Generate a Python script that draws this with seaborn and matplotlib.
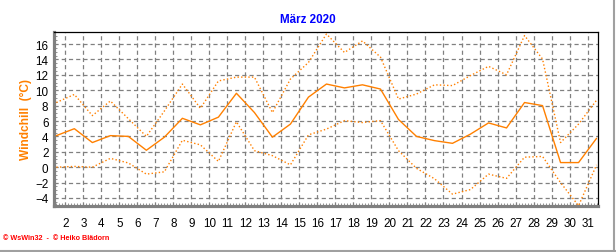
import matplotlib
matplotlib.use("Agg")
import matplotlib.pyplot as plt
import seaborn as sns
import pandas as pd
import numpy as np
from matplotlib.ticker import MultipleLocator
from matplotlib.lines import Line2D

# ---- data ----
days = list(range(1, 32))
tick_labels = [str(d) for d in range(2, 32)]
windchill_mean = [4.1, 5.0, 3.2, 4.1, 4.0, 2.2, 3.9, 6.35, 5.5, 6.5, 9.6, 7.1, 3.9, 5.6, 9.1,
                  10.8, 10.3, 10.7, 10.15, 6.2, 4.0, 3.45, 3.1, 4.3, 5.75, 5.1, 8.4, 8.0, 0.6, 0.6, 3.75]
windchill_max = [8.4, 9.45, 6.7, 8.6, 6.3, 4.0, 7.3, 10.8, 7.65, 11.2, 11.7, 11.7, 7.1, 11.45, 13.6,
                 17.3, 14.9, 16.4, 14.3, 8.85, 9.5, 10.7, 10.6, 11.9, 13.1, 12.0, 17.1, 14.05, 3.2, 5.6, 8.7]
windchill_min = [0.0, 0.1, 0.0, 1.15, 0.55, -0.9, -0.6, 3.5, 2.9, 0.75, 5.9, 2.15, 1.5, 0.3, 4.2,
                 4.95, 6.05, 5.8, 6.05, 2.15, -0.15, -1.5, -3.5, -2.9, -0.9, -1.45, 1.3, 1.4, -2.0, -5.0, 0.3]

sns.set_theme(style="white")
plt.rcParams['font.family'] = ['Liberation Sans', 'DejaVu Sans']
plt.rcParams['lines.scale_dashes'] = False

df = pd.DataFrame({
    "pos": [d + 0.5 for d in days],
    "mean": windchill_mean,
    "max": windchill_max,
    "min": windchill_min,
})

W, H = 616, 253
fig = plt.figure(figsize=(W / 100, H / 100), dpi=100)
ax = fig.add_axes([54 / W, 1 - 207 / H, (598 - 54) / W, (207 - 33) / H])

orange = "#FF8000"
sns.lineplot(data=df, x="pos", y="max", ax=ax, color=orange, lw=1.0,
             linestyle=(0, (1.0, 1.6)), zorder=3)
sns.lineplot(data=df, x="pos", y="min", ax=ax, color=orange, lw=1.0,
             linestyle=(0, (1.0, 1.6)), zorder=3)
sns.lineplot(data=df, x="pos", y="mean", ax=ax, color=orange, lw=1.0, zorder=4)

ax.set_xlim(1.37, 31.58)
ax.set_ylim(-5.04, 17.56)
ax.set_xticks(range(2, 32))
ax.set_xticklabels(tick_labels)
ax.set_yticks(range(-4, 17, 2))
ax.yaxis.set_minor_locator(MultipleLocator(0.5))
ax.xaxis.set_minor_locator(MultipleLocator(1 / 6))

ax.grid(True, which="major", color="#808080", lw=0.9, linestyle=(0, (3.0, 2.2)), zorder=1)
ax.set_axisbelow(True)

for s in ("top", "right"):
    ax.spines[s].set_color("black")
    ax.spines[s].set_linewidth(0.9)
for s in ("left", "bottom"):
    ax.spines[s].set_color("#808080")
    ax.spines[s].set_linewidth(2.3)

ax.tick_params(axis="both", which="major", labelsize=8.4, colors="black", length=0, pad=4)
ax.tick_params(axis="x", which="major", pad=8)
ax.tick_params(axis="both", which="minor", length=2, color="#808080", width=0.6, direction="in")
ax.tick_params(left=True, bottom=True, which="minor")

ax.set_xlabel("")
ax.set_ylabel("Windchill  (°C)", color=orange, fontsize=8.6, fontweight="bold", labelpad=2)

fig.text(308 / W, 1 - 20 / H, "März 2020", color="#0000FF", fontsize=8.4,
         fontweight="bold", ha="center", va="center")
fig.text(3 / W, 1 - 239 / H, "© WsWin32  -  © Heiko Blädorn", color="#FF0000",
         fontsize=5.2, fontweight="bold", ha="left", va="center")

# frame lines on the right and bottom of the figure
fig.add_artist(Line2D([613.5 / W, 613.5 / W], [0, 1], transform=fig.transFigure,
                      color="#A0A0A0", lw=1.5))
fig.add_artist(Line2D([0, 1], [1.5 / H, 1.5 / H], transform=fig.transFigure,
                      color="#A0A0A0", lw=1.5))

fig.savefig("out.png", dpi=100)
